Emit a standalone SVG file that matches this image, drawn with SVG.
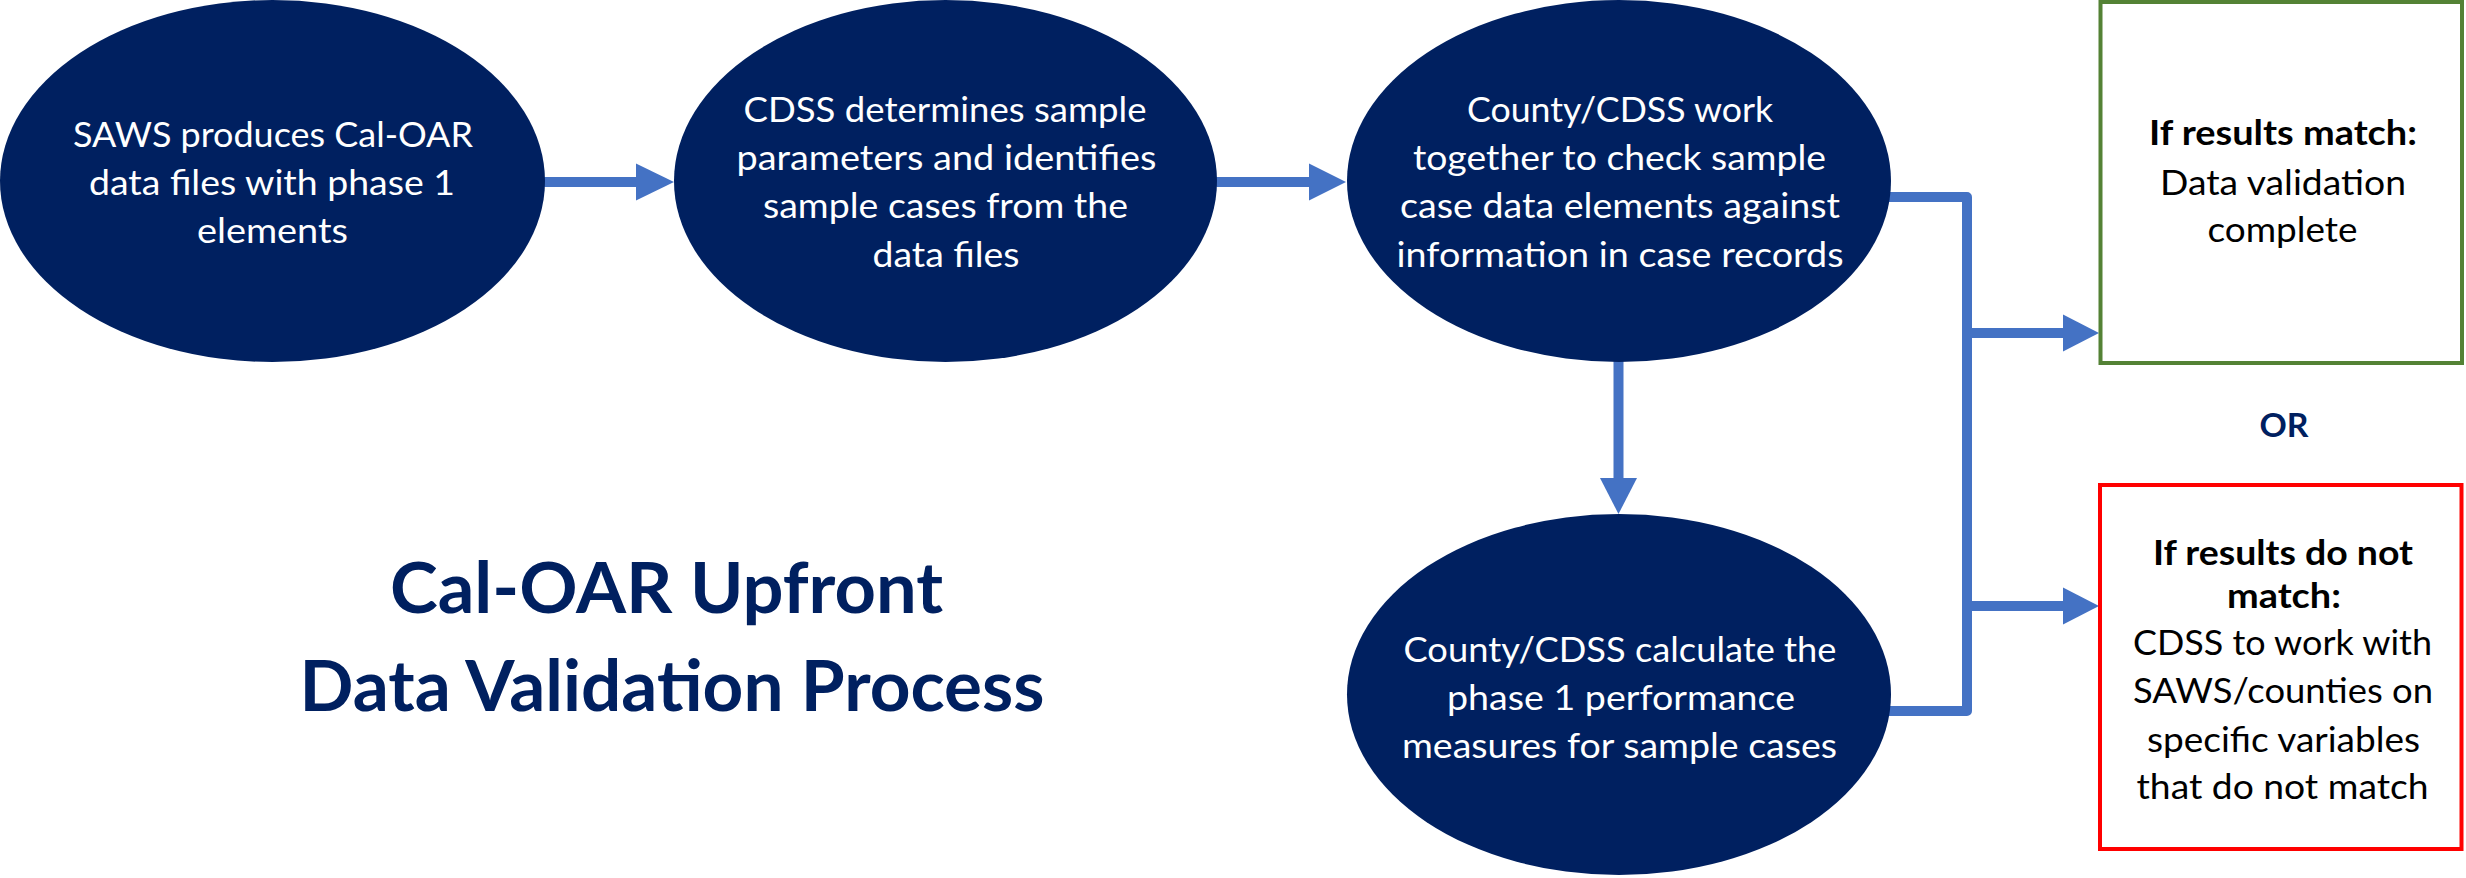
<svg xmlns="http://www.w3.org/2000/svg" width="2466" height="878" viewBox="0 0 2466 878">
<defs>
<style>
.node{fill:#002060;}
.nt{font-family:Lato,"Open Sans","Liberation Sans",sans-serif;font-size:35px;fill:#ffffff;text-anchor:middle;}
.bt{font-family:Lato,"Open Sans","Liberation Sans",sans-serif;font-size:35px;fill:#000000;text-anchor:middle;}
.bb{font-weight:bold;}
.title{font-family:Lato,"Open Sans","Liberation Sans",sans-serif;font-size:70px;font-weight:bold;fill:#002060;text-anchor:middle;}
.or{font-family:Lato,"Open Sans","Liberation Sans",sans-serif;font-size:32px;font-weight:bold;fill:#002060;text-anchor:middle;}
.conn{fill:none;stroke:#4472C4;stroke-width:10;stroke-linejoin:round;}
.head{fill:#4472C4;}
</style>
</defs>
<rect x="0" y="0" width="2466" height="878" fill="#ffffff"/>

<g id="connectors">
<path class="conn" d="M545,182 H637" stroke-linecap="round"/>
<polygon class="head" points="636,163.5 674,182 636,200.5"/>
<path class="conn" d="M1217,182 H1310" stroke-linecap="round"/>
<polygon class="head" points="1309,163.5 1346,182 1309,200.5"/>
<path class="conn" d="M1618.5,361 V479" stroke-linecap="round"/>
<polygon class="head" points="1600,478 1618.5,514 1637,478"/>
<path class="conn" d="M1888,197 H1967 V711 H1888"/>
<path class="conn" d="M1967,333 H2064"/>
<polygon class="head" points="2063,314.5 2099,333 2063,351.5"/>
<path class="conn" d="M1967,606 H2064"/>
<polygon class="head" points="2063,587.5 2099,606 2063,624.5"/>
</g>

<g id="node-saws">
<ellipse class="node" cx="272.5" cy="181" rx="272.5" ry="181"/>
<text class="nt" x="273" y="146.5" textLength="400" lengthAdjust="spacingAndGlyphs">SAWS produces Cal-OAR</text>
<text class="nt" x="272" y="195" textLength="366" lengthAdjust="spacingAndGlyphs">data files with phase 1</text>
<text class="nt" x="272.5" y="242.5" textLength="151" lengthAdjust="spacingAndGlyphs">elements</text>
</g>

<g id="node-cdss">
<ellipse class="node" cx="945.5" cy="181" rx="271.5" ry="181"/>
<text class="nt" x="945" y="122" textLength="403" lengthAdjust="spacingAndGlyphs">CDSS determines sample</text>
<text class="nt" x="946.5" y="170" textLength="420" lengthAdjust="spacingAndGlyphs">parameters and identifies</text>
<text class="nt" x="945.5" y="218" textLength="365" lengthAdjust="spacingAndGlyphs">sample cases from the</text>
<text class="nt" x="946" y="266.5" textLength="147" lengthAdjust="spacingAndGlyphs">data files</text>
</g>

<g id="node-check">
<ellipse class="node" cx="1619" cy="181" rx="272" ry="181"/>
<text class="nt" x="1620" y="122" textLength="306" lengthAdjust="spacingAndGlyphs">County/CDSS work</text>
<text class="nt" x="1619.5" y="170" textLength="413" lengthAdjust="spacingAndGlyphs">together to check sample</text>
<text class="nt" x="1620" y="218" textLength="440" lengthAdjust="spacingAndGlyphs">case data elements against</text>
<text class="nt" x="1620" y="266.5" textLength="447" lengthAdjust="spacingAndGlyphs">information in case records</text>
</g>

<g id="node-calc">
<ellipse class="node" cx="1619" cy="694.5" rx="272" ry="180.5"/>
<text class="nt" x="1620" y="661.5" textLength="433" lengthAdjust="spacingAndGlyphs">County/CDSS calculate the</text>
<text class="nt" x="1621" y="710" textLength="348" lengthAdjust="spacingAndGlyphs">phase 1 performance</text>
<text class="nt" x="1619.5" y="758" textLength="435" lengthAdjust="spacingAndGlyphs">measures for sample cases</text>
</g>

<g id="node-match">
<rect x="2100.5" y="2" width="361.5" height="361" fill="#ffffff" stroke="#548235" stroke-width="4"/>
<text class="bt bb" x="2283" y="145" textLength="268" lengthAdjust="spacingAndGlyphs">If results match:</text>
<text class="bt" x="2283" y="194.5" textLength="246" lengthAdjust="spacingAndGlyphs">Data validation</text>
<text class="bt" x="2282.5" y="242" textLength="150" lengthAdjust="spacingAndGlyphs">complete</text>
</g>

<g id="label-or">
<text class="or" x="2284" y="437" textLength="49" lengthAdjust="spacingAndGlyphs">OR</text>
</g>

<g id="node-nomatch">
<rect x="2100" y="485" width="361.5" height="364" fill="#ffffff" stroke="#FF0000" stroke-width="4"/>
<text class="bt bb" x="2283" y="565" textLength="260" lengthAdjust="spacingAndGlyphs">If results do not</text>
<text class="bt bb" x="2284" y="608" textLength="114" lengthAdjust="spacingAndGlyphs">match:</text>
<text class="bt" x="2282.5" y="655" textLength="299" lengthAdjust="spacingAndGlyphs">CDSS to work with</text>
<text class="bt" x="2283" y="703" textLength="300" lengthAdjust="spacingAndGlyphs">SAWS/counties on</text>
<text class="bt" x="2283.5" y="751.5" textLength="273" lengthAdjust="spacingAndGlyphs">specific variables</text>
<text class="bt" x="2282.5" y="798.5" textLength="292" lengthAdjust="spacingAndGlyphs">that do not match</text>
</g>

<g id="title">
<text class="title" x="666.5" y="613" textLength="553" lengthAdjust="spacingAndGlyphs">Cal-OAR Upfront</text>
<text class="title" x="672" y="711" textLength="745" lengthAdjust="spacingAndGlyphs">Data Validation Process</text>
</g>
</svg>
